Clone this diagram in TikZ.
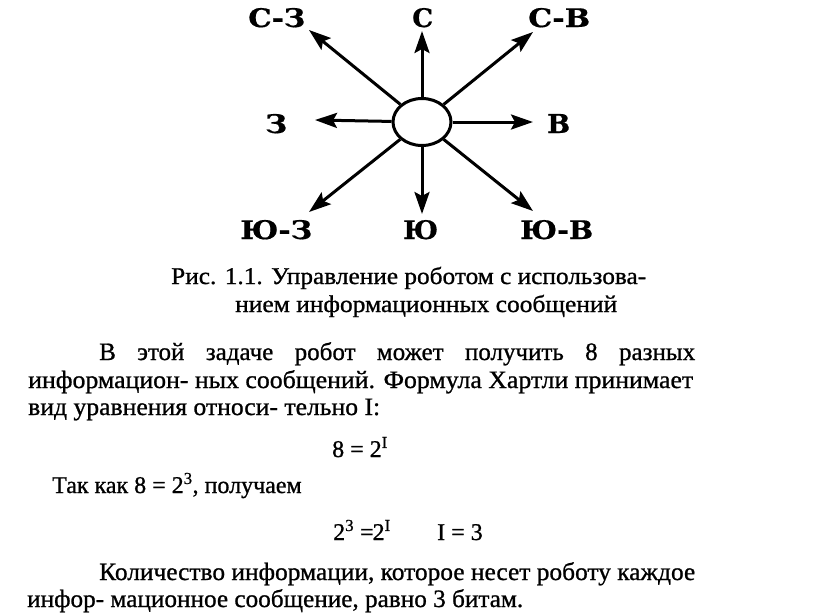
\documentclass[tikz,border=0pt]{standalone}
\usepackage{fontspec}
\usepackage{graphicx}
\setmainfont{Liberation Serif}
\newfontfamily\bodyfont{Liberation Serif}[FakeBold=0.9]
\newfontfamily\labfont{DejaVu Serif}[FakeBold=0.6]
\usetikzlibrary{arrows.meta,shapes.geometric}
\begin{document}
\begin{tikzpicture}[x=1pt,y=-1pt,
  lab/.style={anchor=base west, inner sep=0pt, font=\labfont\bfseries\fontsize{25}{25}\selectfont},
  arr/.style={line width=3pt, -{Stealth[length=22pt,width=15pt,inset=4pt]}},
  txt/.style={anchor=base west, inner sep=0pt, font=\bodyfont\fontsize{24}{28}\selectfont},
  body/.style={anchor=base west, inner sep=0pt, font=\bodyfont\fontsize{25}{28}\selectfont}]
\useasboundingbox (0,0) rectangle (816,614);
% robot
\node[ellipse, draw, line width=3pt, minimum width=58pt, minimum height=47pt, inner sep=0pt] (robot) at (422,122) {};
% tips
\coordinate (tN) at (422,31);
\coordinate (tNE) at (533,32);
\coordinate (tE) at (533,122);
\coordinate (tSE) at (533,211);
\coordinate (tS) at (422,214);
\coordinate (tSW) at (309,212);
\coordinate (tW) at (315,120);
\coordinate (tNW) at (309,30);
\foreach \t in {tN,tNE,tE,tSE,tS,tSW,tW,tNW}{\draw[arr] (robot) -- (\t);}
% labels
\node[lab] (lNW) at (248,27) {\resizebox{57pt}{19pt}{С-З}};
\node[lab] (lN) at (412,27) {\resizebox{21pt}{19pt}{С}};
\node[lab] (lNE) at (528,27) {\resizebox{62pt}{19pt}{С-В}};
\node[lab] (lW) at (265,133) {\resizebox{22pt}{19pt}{З}};
\node[lab] (lE) at (547,133) {\resizebox{23pt}{19pt}{В}};
\node[lab] (lSW) at (240,239) {\resizebox{72pt}{19pt}{Ю-З}};
\node[lab] (lS) at (403,239) {\resizebox{35pt}{19pt}{Ю}};
\node[lab] (lSE) at (520,239) {\resizebox{73pt}{19pt}{Ю-В}};
% caption
\node[txt] (cap1) at (171,284) {\resizebox{475pt}{\height}{Рис. 1.1. Управление роботом с использова-}};
\node[txt] (cap2) at (235,312) {\resizebox{382pt}{\height}{нием информационных сообщений}};
% body
\node[body] (b1) at (99,360) {\hbox to 596pt{В этой задаче робот может получить 8 разных}};
\node[body] (b2) at (28,388) {\resizebox{665pt}{\height}{информацион- ных сообщений. Формула Хартли принимает}};
\node[body] (b3) at (28,415) {\resizebox{352pt}{\height}{вид уравнения относи- тельно I:}};
\node[txt] (e1) at (332,457) {8 = 2\textsuperscript{I}};
\node[txt] (t1) at (52,493) {Так как 8 = 2\textsuperscript{3}, получаем};
\node[txt] (e2) at (333,540) {2\textsuperscript{3} =\kern-1pt 2\textsuperscript{I}};
\node[txt] (e3) at (437,540) {I = 3};
\node[body] (k1) at (99,580) {\resizebox{596pt}{\height}{Количество информации, которое несет роботу каждое}};
\node[body] (k2) at (27,607) {\resizebox{496pt}{\height}{инфор- мационное сообщение, равно 3 битам.}};
\end{tikzpicture}
\end{document}
